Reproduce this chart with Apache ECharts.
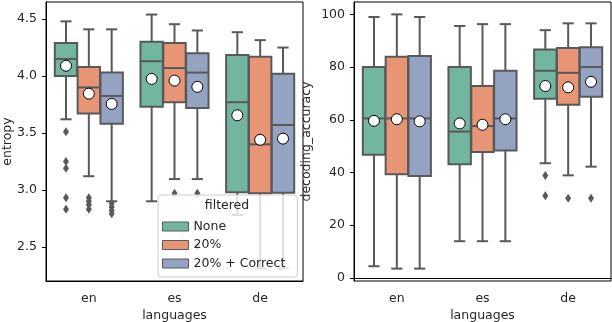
<!DOCTYPE html>
<html>
<head>
<meta charset="utf-8">
<script src="https://cdn.jsdelivr.net/npm/echarts@6/dist/echarts.min.js"></script>
<style>
  html, body { margin: 0; padding: 0; background: #fff; }
  #chart { width: 612px; height: 322px; }
</style>
</head>
<body>
<div id="chart"></div>
<script>
const languages = ['en', 'es', 'de']
const hues = ['None', '20%', '20% + Correct']
const hueColors = ['#72b6a1', '#e89575', '#95a3c3']
const lineColor = '#595959'

// [category index, lower whisker, Q1, median, Q3, upper whisker, mean]
const entropyBoxes = [
  [[0, 3.62, 4.00, 4.15, 4.29, 4.48, 4.09], [1, 2.90, 3.73, 4.13, 4.30, 4.54, 3.975], [2, 2.78, 2.98, 3.77, 4.185, 4.385, 3.655]],
  [[0, 3.12, 3.67, 3.90, 4.08, 4.41, 3.845], [1, 3.095, 3.77, 4.07, 4.29, 4.455, 3.96], [2, 2.31, 2.97, 3.40, 4.17, 4.315, 3.44]],
  [[0, 2.90, 3.58, 3.825, 4.03, 4.41, 3.755], [1, 3.095, 3.72, 4.03, 4.20, 4.40, 3.905], [2, 2.31, 2.975, 3.57, 4.02, 4.25, 3.45]]
]
// [category index, value]
const entropyOutliers = [
  [[0, 3.51], [0, 3.25], [0, 3.19], [0, 2.93], [0, 2.83]],
  [[0, 2.93], [0, 2.90], [0, 2.87], [0, 2.83], [1, 2.97]],
  [[0, 2.88], [0, 2.85], [0, 2.82], [0, 2.79], [1, 2.97], [1, 2.51]]
]

const accuracyBoxes = [
  [[0, 4.4, 46.7, 60.5, 80.0, 99.0, 59.6], [1, 13.9, 43.1, 55.5, 80.0, 95.6, 58.6], [2, 43.5, 68.0, 78.6, 86.7, 94.0, 72.8]],
  [[0, 3.5, 39.3, 60.5, 83.9, 100.0, 60.2], [1, 13.9, 47.8, 57.6, 72.8, 96.3, 58.1], [2, 38.9, 65.7, 77.8, 87.2, 96.6, 72.3]],
  [[0, 3.5, 38.7, 60.5, 84.2, 99.0, 59.4], [1, 13.9, 48.3, 60.5, 78.6, 96.3, 60.2], [2, 42.2, 68.7, 80.0, 87.5, 96.6, 74.4]]
]
const accuracyOutliers = [
  [[2, 38.8], [2, 31.2]],
  [[2, 30.2]],
  [[2, 30.2]]
]

const entropyTicks = [2.5, 3.0, 3.5, 4.0, 4.5]
const accuracyTicks = [0, 20, 40, 60, 80, 100]

const font = 'DejaVu Sans'
const fontSize = 12.5
const textColor = '#262626'

function hueGeom(api, hue, cat) {
  const band = api.size([1, 0])[0]
  const step = band * 0.8 / hues.length
  const w = step * 0.98
  const x = api.coord([cat, 0])[0] + (hue - 1) * step
  return { x, w }
}

function boxRenderer(hue) {
  return function (params, api) {
    const cat = api.value(0)
    const { x, w } = hueGeom(api, hue, cat)
    const y = v => api.coord([cat, v])[1]
    const yLo = y(api.value(1)), yQ1 = y(api.value(2)), yMed = y(api.value(3))
    const yQ3 = y(api.value(4)), yHi = y(api.value(5)), yMean = y(api.value(6))
    const ls = { stroke: lineColor, lineWidth: 2 }
    const cap = w / 4
    return {
      type: 'group',
      children: [
        { type: 'line', shape: { x1: x, y1: yQ1, x2: x, y2: yLo }, style: ls },
        { type: 'line', shape: { x1: x, y1: yQ3, x2: x, y2: yHi }, style: ls },
        { type: 'line', shape: { x1: x - cap, y1: yLo, x2: x + cap, y2: yLo }, style: ls },
        { type: 'line', shape: { x1: x - cap, y1: yHi, x2: x + cap, y2: yHi }, style: ls },
        { type: 'rect', shape: { x: x - w / 2, y: yQ3, width: w, height: yQ1 - yQ3 },
          style: { fill: hueColors[hue], stroke: lineColor, lineWidth: 2 } },
        { type: 'line', shape: { x1: x - w / 2, y1: yMed, x2: x + w / 2, y2: yMed }, style: ls },
        { type: 'circle', shape: { cx: x, cy: yMean, r: 5.5 }, z2: 5,
          style: { fill: '#fff', stroke: '#000', lineWidth: 1 } }
      ]
    }
  }
}

function outlierRenderer(hue) {
  return function (params, api) {
    const cat = api.value(0)
    const { x } = hueGeom(api, hue, cat)
    const cy = api.coord([cat, api.value(1)])[1]
    return {
      type: 'polygon',
      shape: { points: [[x, cy - 4.5], [x + 3, cy], [x, cy + 4.5], [x - 3, cy]] },
      style: { fill: lineColor }
    }
  }
}

const series = []
;[[entropyBoxes, entropyOutliers, 0], [accuracyBoxes, accuracyOutliers, 1]].forEach(([boxes, outs, gi]) => {
  hues.forEach((h, hi) => {
    series.push({
      type: 'custom', name: h, xAxisIndex: gi, yAxisIndex: gi,
      renderItem: boxRenderer(hi), data: boxes[hi],
      itemStyle: { color: hueColors[hi] },
      encode: { x: 0, y: [1, 2, 3, 4, 5, 6] }, silent: true, clip: false
    })
    series.push({
      type: 'custom', name: h + ' outliers', xAxisIndex: gi, yAxisIndex: gi,
      renderItem: outlierRenderer(hi), data: outs[hi],
      encode: { x: 0, y: 1 }, silent: true
    })
  })
})

const grids = [
  { left: 46, top: 2, width: 257, height: 279 },
  { left: 354, top: 2, width: 257, height: 279 }
]

function xAxis(gi) {
  return {
    type: 'category', gridIndex: gi, data: languages,
    name: 'languages', nameLocation: 'middle', nameGap: 28, nameMoveOverlap: false,
    nameTextStyle: { fontFamily: font, fontSize, color: textColor },
    axisLine: { lineStyle: { color: '#000', width: 1 } },
    axisTick: { alignWithLabel: true, length: 4, lineStyle: { color: '#000' } },
    axisLabel: { fontFamily: font, fontSize, color: textColor, margin: 11 },
    splitLine: { show: false }
  }
}

function yAxis(gi, name, min, max, ticks, gap) {
  return {
    type: 'value', gridIndex: gi, min, max,
    name, nameLocation: 'middle', nameGap: gap, nameMoveOverlap: false,
    nameTextStyle: { fontFamily: font, fontSize, color: textColor },
    axisLine: { show: true, lineStyle: { color: '#000', width: 1 } },
    axisTick: { show: true, length: 4, lineStyle: { color: '#000' }, customValues: ticks },
    axisLabel: { fontFamily: font, fontSize, color: textColor, margin: 9, customValues: ticks,
      formatter: v => (gi === 0 ? v.toFixed(1) : String(v)) },
    splitLine: { show: false }
  }
}

const chart = echarts.init(document.getElementById('chart'), null, { renderer: 'canvas' })
chart.setOption({
  animation: false,
  backgroundColor: '#fff',
  grid: grids.map(g => Object.assign({
    show: true, borderColor: '#000', borderWidth: 1, backgroundColor: 'transparent',
    containLabel: false, outerBoundsMode: 'none'
  }, g)),
  xAxis: [xAxis(0), xAxis(1)],
  yAxis: [
    yAxis(0, 'entropy', 2.2, 4.65, entropyTicks, 32),
    yAxis(1, 'decoding_accuracy', -1.2, 104.7, accuracyTicks, 41)
  ],
  legend: {
    data: hues.map((h, i) => ({ name: h, itemStyle: { color: hueColors[i], borderColor: lineColor, borderWidth: 1 } })),
    orient: 'vertical', left: 158, top: 195,
    padding: [25, 12, 7, 4],
    icon: 'rect', itemWidth: 26, itemHeight: 9, itemGap: 5.5, itemTextGap: 10,
    backgroundColor: 'rgba(255,255,255,0.8)', borderColor: '#cccccc', borderWidth: 1, borderRadius: 3,
    textStyle: { fontFamily: font, fontSize, color: textColor },
    selectedMode: false, z: 10
  },
  graphic: [{
    type: 'text', x: 227, y: 206, z: 20,
    style: { text: 'filtered', fontFamily: font, fontSize, fill: textColor, align: 'center', verticalAlign: 'middle' }
  }],
  series
})
</script>
</body>
</html>
